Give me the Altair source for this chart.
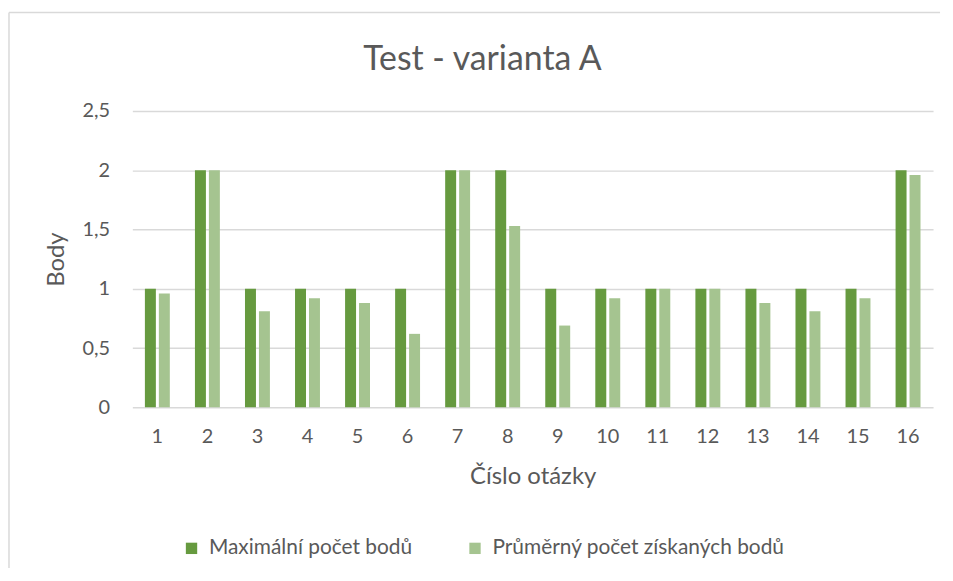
import altair as alt
import pandas as pd

questions = list(range(1, 17))
max_points = [1, 2, 1, 1, 1, 1, 2, 2, 1, 1, 1, 1, 1, 1, 1, 2]
avg_points = [0.96, 2, 0.81, 0.92, 0.88, 0.62, 2, 1.53, 0.69, 0.92, 1, 1, 0.88, 0.81, 0.92, 1.96]
series_names = ["Maximální počet bodů", "Průměrný počet získaných bodů"]
colors = ["#669a3f", "#a5c490"]
y_ticks = [0, 0.5, 1, 1.5, 2, 2.5]
chart_title = "Test - varianta A"

rows = []
for q, m, a in zip(questions, max_points, avg_points):
    rows.append({"q": q, "series": series_names[0], "value": m})
    rows.append({"q": q, "series": series_names[1], "value": a})
df = pd.DataFrame(rows)

FONT = "Lato"
TEXT = "#595959"
GRID = "#d9d9d9"

bars = alt.Chart(df).mark_bar().encode(
    x=alt.X(
        "q:O",
        scale=alt.Scale(paddingInner=0, paddingOuter=0),
        axis=alt.Axis(
            title="Číslo otázky",
            labelAngle=0,
            ticks=False,
            domain=False,
            labelFont=FONT,
            labelFontSize=20,
            labelColor=TEXT,
            labelPadding=19,
            titleFont=FONT,
            titleFontSize=24,
            titleFontWeight="normal",
            titleColor=TEXT,
            titleY=70,
            titleBaseline="middle",
        ),
    ),
    xOffset=alt.XOffset(
        "series:N",
        sort=series_names,
        scale=alt.Scale(paddingInner=0.214, paddingOuter=0.9),
    ),
    y=alt.Y(
        "value:Q",
        scale=alt.Scale(domain=[0, 2.5], nice=False),
        axis=alt.Axis(
            title="Body",
            values=y_ticks,
            grid=True,
            gridColor=GRID,
            gridWidth=1.5,
            domain=False,
            ticks=False,
            labelExpr="replace(format(datum.value, '~g'), '.', ',')",
            labelFont=FONT,
            labelFontSize=20,
            labelColor=TEXT,
            labelPadding=23,
            titleFont=FONT,
            titleFontSize=24,
            titleFontWeight="normal",
            titleColor=TEXT,
            titleX=-76,
            titleY=149,
            titleAngle=-90,
            titleAlign="center",
            titleBaseline="middle",
        ),
    ),
    color=alt.Color(
        "series:N",
        sort=series_names,
        scale=alt.Scale(domain=series_names, range=colors),
        legend=alt.Legend(
            title=None,
            orient="none",
            direction="horizontal",
            legendX=49,
            legendY=429,
            symbolType="square",
            symbolSize=130,
            symbolStrokeWidth=0,
            labelFont=FONT,
            labelFontSize=21,
            labelColor=TEXT,
            labelOffset=7,
            labelLimit=0,
            columnPadding=52,
            padding=0,
        ),
    ),
)

title_mark = alt.Chart(alt.Data(values=[{"t": chart_title}])).mark_text(
    font=FONT, fontSize=34, color=TEXT, align="center", baseline="alphabetic"
).encode(text="t:N", x=alt.value(352), y=alt.value(-41))

border_left = alt.Chart(alt.Data(values=[{}])).mark_rule(color=GRID, strokeWidth=1.5).encode(
    x=alt.value(-124), y=alt.value(-99), y2=alt.value(470)
)
border_top = alt.Chart(alt.Data(values=[{}])).mark_rule(color=GRID, strokeWidth=1.5).encode(
    x=alt.value(-124), x2=alt.value(812), y=alt.value(-99)
)

chart = alt.layer(bars, title_mark, border_left, border_top).properties(
    width=805,
    height=298,
    autosize=alt.AutoSizeParams(type="none"),
    padding={"left": 125, "top": 102, "right": 12, "bottom": 160},
).configure_view(stroke=None)

chart.save("out.html", embed_options={"renderer": "svg", "actions": False})
